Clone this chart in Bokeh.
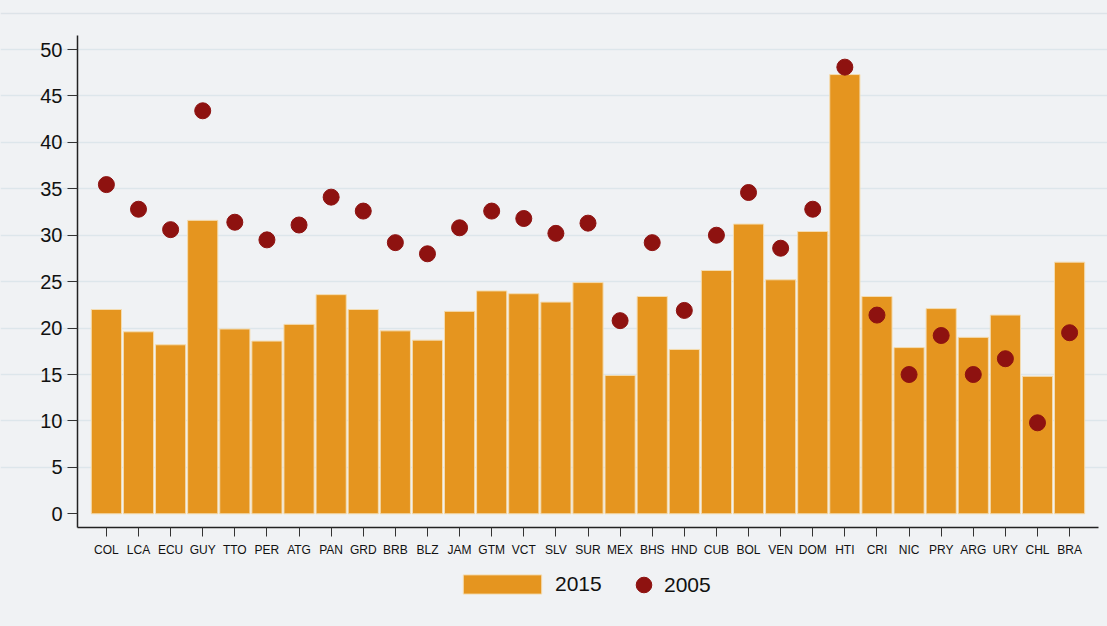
from bokeh.plotting import figure
from bokeh.models import Range1d, FixedTicker, Legend, LegendItem, ColumnDataSource, Span
from bokeh.embed import file_html
from bokeh.resources import INLINE

countries = ["COL", "LCA", "ECU", "GUY", "TTO", "PER", "ATG", "PAN", "GRD", "BRB",
             "BLZ", "JAM", "GTM", "VCT", "SLV", "SUR", "MEX", "BHS", "HND", "CUB",
             "BOL", "VEN", "DOM", "HTI", "CRI", "NIC", "PRY", "ARG", "URY", "CHL", "BRA"]
v2015 = [22.0, 19.6, 18.2, 31.6, 19.9, 18.6, 20.4, 23.6, 22.0, 19.7,
         18.7, 21.8, 24.0, 23.7, 22.8, 24.9, 14.9, 23.4, 17.7, 26.2,
         31.2, 25.2, 30.4, 47.3, 23.4, 17.9, 22.1, 19.0, 21.4, 14.8, 27.1]
v2005 = [35.45, 32.8, 30.6, 43.4, 31.4, 29.5, 31.1, 34.1, 32.6, 29.2,
         28.0, 30.8, 32.6, 31.8, 30.2, 31.3, 20.8, 29.2, 21.9, 30.0,
         34.6, 28.6, 32.8, 48.1, 21.4, 15.0, 19.2, 15.0, 16.7, 9.8, 19.5]
yticks = [0, 5, 10, 15, 20, 25, 30, 35, 40, 45, 50]

BG = "#f0f2f4"
W, H = 1107, 626
idx = list(range(len(countries)))
src = ColumnDataSource(dict(x=idx, c=countries, a=v2015, b=v2005))

# plot-area extents in data units
XLO, XHI = -0.9, len(countries) - 0.1
YLO, YHI = -1.48, 51.54
# frame covers the whole canvas; axes are drawn at fixed locations inside it
px_x = (1098 - 77) / (XHI - XLO)
px_y = (513.3 - 49.0) / 50.0
x_range = Range1d(XLO - 77 / px_x, XHI + (W - 1098) / px_x)
y_range = Range1d(-(H - 513.3) / px_y, 513.3 / px_y)

p = figure(width=W, height=H, output_backend="svg", toolbar_location=None,
           x_range=x_range, y_range=y_range,
           min_border_left=0, min_border_right=0, min_border_top=0, min_border_bottom=0,
           background_fill_color=BG, border_fill_color=BG)
p.outline_line_color = None

top_rule = Span(location=(513.3 - 13) / px_y, dimension="width",
                line_color="#dde3e8", line_width=1.5)
p.add_layout(top_rule)

bars = p.vbar(x="x", top="a", bottom=0, width=0.94, source=src,
              fill_color="#e5951f", line_color="#f4dcb0", line_width=1)
dots = p.scatter(x="x", y="b", size=16, source=src,
                 fill_color="#8e1210", line_color="#8e1210")

p.xgrid.grid_line_color = None
p.ygrid.grid_line_color = "#dde6eb"
p.ygrid.grid_line_width = 1.5
p.ygrid.ticker = FixedTicker(ticks=yticks[1:])
p.ygrid.bounds = (XLO, XHI)

ya = p.yaxis[0]
ya.fixed_location = XLO
ya.bounds = (YLO, YHI)
ya.ticker = FixedTicker(ticks=yticks)
ya.minor_tick_line_color = None
ya.major_tick_out = 10
ya.major_tick_in = 0
ya.major_label_text_font = "Liberation Sans"
ya.major_label_text_font_size = "20px"
ya.major_label_text_color = "#111111"
ya.major_label_standoff = 5
ya.axis_line_color = "#222222"
ya.axis_line_width = 1.5
ya.major_tick_line_color = "#333333"

xa = p.xaxis[0]
xa.fixed_location = YLO
xa.bounds = (XLO, XHI)
xa.ticker = FixedTicker(ticks=idx)
xa.major_label_overrides = {i: c for i, c in enumerate(countries)}
xa.minor_tick_line_color = None
xa.major_tick_out = 9
xa.major_tick_in = 0
xa.major_label_text_font = "Liberation Sans"
xa.major_label_text_font_size = "12px"
xa.major_label_text_color = "#111111"
xa.major_label_standoff = 6
xa.axis_line_color = "#222222"
xa.axis_line_width = 1.5
xa.major_tick_line_color = "#333333"

leg1 = Legend(items=[LegendItem(label="2015", renderers=[bars])],
              location=(453, 30), glyph_width=98, glyph_height=24, label_height=24,
              label_standoff=4, padding=0, margin=0, spacing=0,
              background_fill_alpha=0, border_line_color=None,
              label_text_font="Liberation Sans", label_text_font_size="21px",
              label_text_color="#111111")
leg2 = Legend(items=[LegendItem(label="2005", renderers=[dots])],
              location=(624, 22), glyph_width=39, glyph_height=39, label_height=39,
              label_standoff=1, padding=0, margin=0, spacing=0,
              background_fill_alpha=0, border_line_color=None,
              label_text_font="Liberation Sans", label_text_font_size="21px",
              label_text_color="#111111")
p.add_layout(leg1, "center")
p.add_layout(leg2, "center")

html = file_html(p, INLINE)
css = ("<style>html,body{margin:0 !important;padding:0 !important;"
       "background-color:%s !important;overflow:hidden;}</style>" % BG)
html = html.replace("</head>", css + "</head>", 1)
open("out.html", "w").write(html)
